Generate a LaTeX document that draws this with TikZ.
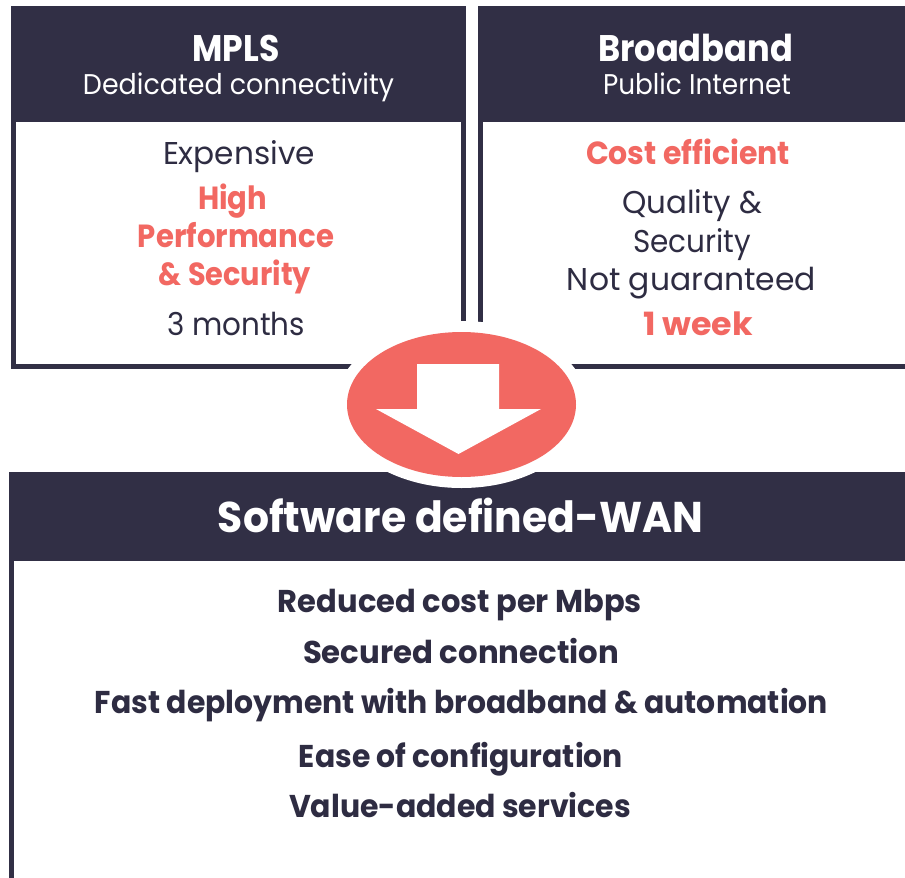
\documentclass[tikz,border=0pt]{standalone}
\usepackage{fontspec}
\setmainfont{Poppins}
\usepackage{graphicx}
\definecolor{navy}{HTML}{312F45}
\definecolor{salmon}{HTML}{F26862}
\definecolor{ink}{HTML}{2E2C42}
\newcommand{\fitw}[2]{\resizebox{#1}{\height}{#2}}
\tikzset{
  hdr/.style={fill=navy, draw=none},
  frame/.style={draw=navy, line width=5pt},
  txt/.style={anchor=base, inner sep=0pt, text=ink},
  hl/.style={text=salmon},
  wt/.style={text=white},
  fhead/.style={font=\fontsize{37}{40}\selectfont\bfseries},
  fsub/.style={font=\fontsize{28.5}{32}\selectfont},
  fbody/.style={font=\fontsize{31.5}{36}\selectfont},
  fbold/.style={font=\fontsize{32}{36}\selectfont\bfseries},
  fbig/.style={font=\fontsize{43}{48}\selectfont\bfseries},
  flist/.style={font=\fontsize{31.5}{36}\selectfont\bfseries},
}
\begin{document}
\begin{tikzpicture}[x=1pt,y=-1pt]
\useasboundingbox[fill=white] (0,0) rectangle (905,878);
% left box
\fill[hdr] (11,6) rectangle (466,122);
\draw[frame] (13.5,122) -- (13.5,366.5) -- (463.5,366.5) -- (463.5,122);
% right box
\fill[hdr] (478,6) rectangle (905,122);
\draw[frame] (480.5,122) -- (480.5,366.5) -- (905,366.5);
% bottom box
\fill[hdr] (9,472) rectangle (905,561);
\draw[frame] (11.5,561) -- (11.5,878);
% arrow badge
\fill[white] (461.5,404.5) ellipse [x radius=125.5pt, y radius=83.5pt];
\fill[salmon] (461.5,404.5) ellipse [x radius=114.5pt, y radius=72.5pt];
\fill[white] (417,364) -- (499,364) -- (499,409) -- (541,409) -- (458.5,454) -- (376,409) -- (417,409) -- cycle;
% left texts
\node[txt, wt, fhead] (mpls) at (236,61) {\fitw{87pt}{MPLS}};
\node[txt, wt, fsub] (mplssub) at (238.5,94) {\fitw{311pt}{Dedicated connectivity}};
\node[txt, fbody] (exp) at (239,164) {\fitw{152pt}{Expensive}};
\node[txt, hl, fbold] (high) at (232.5,209) {\fitw{69pt}{High}};
\node[txt, hl, fbold] (perf) at (236,247) {\fitw{196pt}{Performance}};
\node[txt, hl, fbold] (sec) at (235,285) {\fitw{152pt}{\& Security}};
\node[txt, fbody] (months) at (236,335) {\fitw{138pt}{3 months}};
% right texts
\node[txt, wt, fhead] (bb) at (695.5,61) {\fitw{195pt}{Broadband}};
\node[txt, wt, fsub] (bbsub) at (697,94) {\fitw{188pt}{Public Internet}};
\node[txt, hl, fbold] (cost) at (688,164) {\fitw{204pt}{Cost efficient}};
\node[txt, fbody] (qual) at (692,213) {\fitw{140pt}{Quality \&}};
\node[txt, fbody] (secr) at (692,252) {\fitw{118pt}{Security}};
\node[txt, fbody] (notg) at (691.5,290) {\fitw{249pt}{Not guaranteed}};
\node[txt, hl, fbold] (week) at (698,335) {\fitw{110pt}{1 week}};
% bottom texts
\node[txt, wt, fbig] (sdwan) at (460.5,532) {\fitw{485pt}{Software defined-WAN}};
\node[txt, flist] (l1) at (460,612) {\fitw{364pt}{Reduced cost per Mbps}};
\node[txt, flist] (l2) at (461,663) {\fitw{316pt}{Secured connection}};
\node[txt, flist] (l3) at (461.5,713) {\fitw{733pt}{Fast deployment with broadband \& automation}};
\node[txt, flist] (l4) at (461,767) {\fitw{324pt}{Ease of configuration}};
\node[txt, flist] (l5) at (460,817) {\fitw{342pt}{Value-added services}};
\end{tikzpicture}
\end{document}
